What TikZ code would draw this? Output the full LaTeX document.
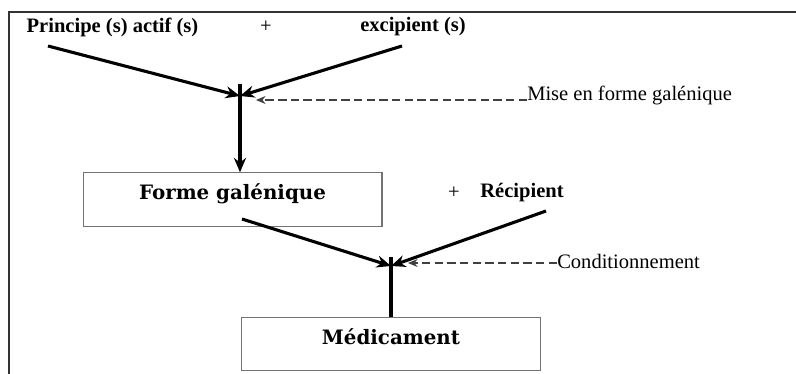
\documentclass[tikz,border=0pt]{standalone}
\usepackage{fontspec}
\setmainfont{Liberation Serif}
\newfontfamily\boxfont{DejaVu Serif}
\usetikzlibrary{arrows.meta}
\tikzset{
  lbl/.style={font=\fontsize{14.6}{17}\selectfont\bfseries, inner sep=0pt},   % bold input label
  note/.style={font=\fontsize{14.6}{17}\selectfont, inner sep=0pt},           % step name
  box/.style={draw=black!55, thick, minimum width=7.47cm, minimum height=1.33cm,
              text height=9pt, text depth=9pt, inner sep=0pt,
              font=\boxfont\fontsize{14.1}{16}\selectfont\bfseries},
  flow/.style={draw=black, line width=2.2pt, -{Stealth[length=3.6mm, width=3mm]}},
  tick/.style={draw=black, line width=2.2pt},
  hint/.style={draw=black!75, thick, dash pattern=on 6pt off 3pt,
               -{Stealth[length=2.4mm, width=2mm]}},
}
\begin{document}
\begin{tikzpicture}[x=0.025cm, y=-0.025cm]
  \useasboundingbox (0,0) rectangle (796,374);
  % frame (cut at right and bottom)
  \draw[black!80, line width=1pt] (9,374) -- (9,12) -- (796,12);
  % inputs
  \node[lbl] (princ) at (112.5,27) {Principe (s) actif (s)};
  \node[note] (plus1) at (266,27) {+};
  \node[lbl] (excip) at (413,27) {excipient (s)};
  \coordinate (a1) at (48,46);
  \coordinate (a2) at (402,46);
  \coordinate (j1top) at (240,84);
  \coordinate (j1) at (240,96);
  \coordinate (m1) at (256,100);
  \node[note, anchor=west] (mise) at (527,95) {Mise en forme galénique};
  % first step
  \node[box] (forme) at (232.5,199.5) {Forme galénique};
  \node[note] (plus2) at (454,193) {+};
  \node[lbl] (recip) at (522,193) {Récipient};
  \draw[flow] (a1) -- (j1);
  \draw[flow] (a2) -- (j1);
  \draw[flow] (j1top) -- (j1top |- forme.north);
  \draw[hint] (mise.west |- m1) -- (m1);
  % second step
  \coordinate (b1) at (242,219);
  \coordinate (b2) at (546,211);
  \coordinate (j2top) at (391,257);
  \coordinate (j2) at (391,266);
  \coordinate (m2) at (408,263);
  \node[note, anchor=west] (cond) at (557,261) {Conditionnement};
  \node[box] (medic) at (391,344) {Médicament};
  \draw[flow] (b1) -- (j2);
  \draw[flow] (b2) -- (j2);
  \draw[tick] (j2top) -- (j2top |- medic.north);
  \draw[hint] (cond.west |- m2) -- (m2);
\end{tikzpicture}
\end{document}
